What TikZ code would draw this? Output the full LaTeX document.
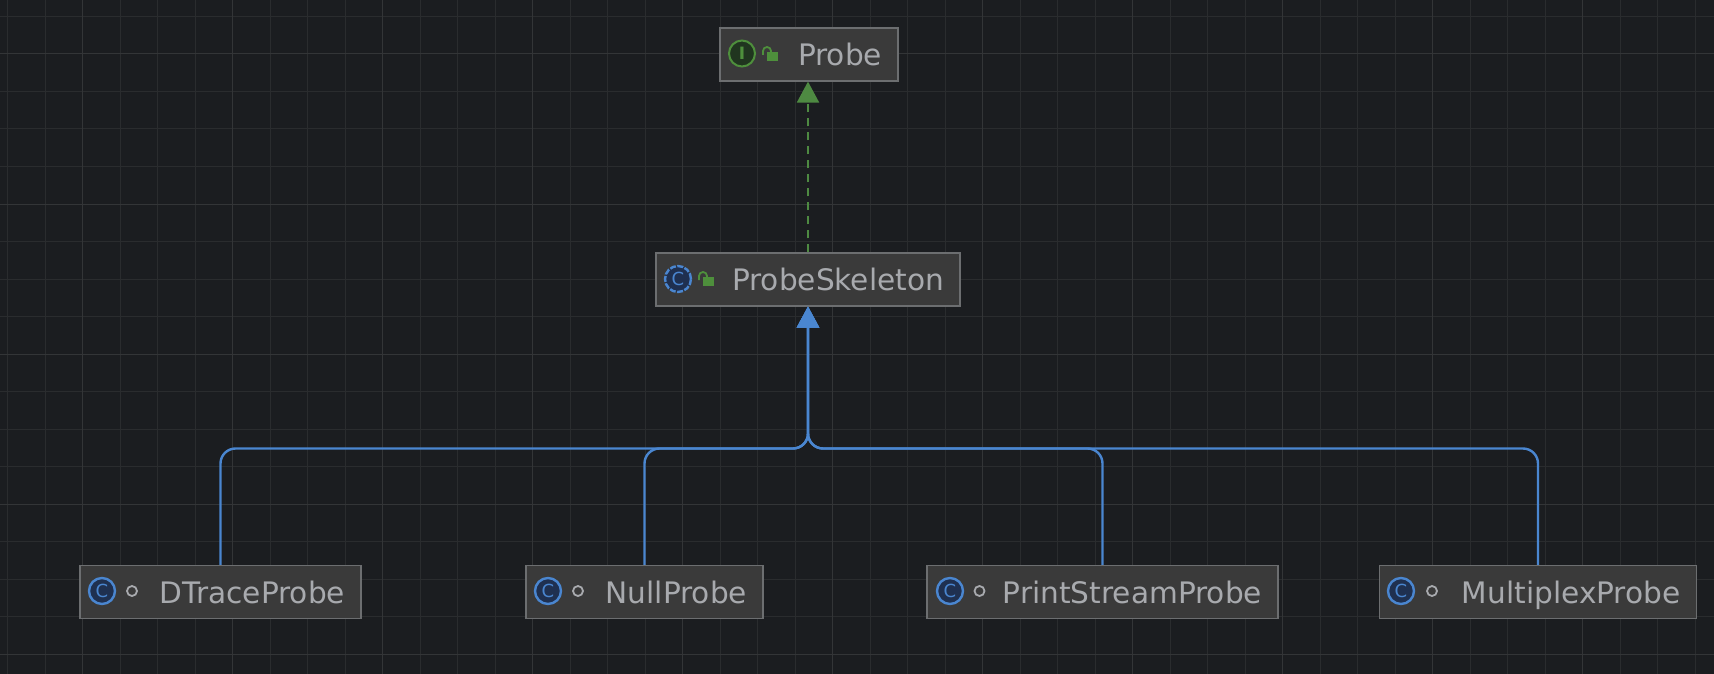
\documentclass[tikz,border=0pt]{standalone}
\usepackage{fontspec}
\setmainfont{DejaVu Sans}
\usetikzlibrary{arrows.meta}
\definecolor{bgc}{HTML}{1B1D20}
\definecolor{gridminor}{HTML}{2A2C2E}
\definecolor{gridmajor}{HTML}{333537}
\definecolor{boxfill}{HTML}{3A3A3A}
\definecolor{boxline}{HTML}{6C6E70}
\definecolor{txt}{HTML}{A8AAAE}
\definecolor{blueedge}{HTML}{4A86D0}
\definecolor{greenedge}{HTML}{4E8A42}
\definecolor{lockc}{HTML}{4E8F3C}
\definecolor{ifill}{HTML}{20351F}
\definecolor{cfill}{HTML}{1F3050}
\tikzset{
  classbox/.style={draw=boxline,fill=boxfill,line width=1.2pt,text=txt,
    font=\fontsize{29.6}{32}\selectfont,inner xsep=16pt,inner ysep=15.5pt,
    text height=22pt,text depth=0pt,align=right},
  inherit/.style={draw=blueedge,line width=2.4pt,rounded corners=15pt,
    -{Triangle[length=21pt,width=22pt]}},
  realize/.style={draw=greenedge,line width=2pt,dash pattern=on 8pt off 6pt,
    -{Triangle[length=21pt,width=22pt]}},
  iconI/.style={circle,draw=lockc,fill=ifill,line width=2pt,minimum size=26pt,inner sep=0pt,
    text=lockc,font=\fontsize{17}{17}\selectfont\bfseries},
  iconC/.style={circle,draw=blueedge,fill=cfill,line width=2.4pt,minimum size=26pt,inner sep=0pt,
    text=blueedge,font=\fontsize{18}{18}\selectfont},
  iconCabs/.style={iconC,dash pattern=on 6pt off 1.5pt},
  dotmark/.style={circle,draw=txt,line width=1.8pt,minimum size=10pt,inner sep=0pt},
}
\newcommand{\lockicon}[2]{%
  \fill[lockc] (#1-5,#2-2) rectangle (#1+6,#2+7);
  \draw[lockc,line width=1.8pt] (#1-1,#2-2) -- (#1-1,#2-3) arc[start angle=0,end angle=-180,radius=4] -- ++(0,4);
}
\begin{document}
\begin{tikzpicture}[x=1pt,y=-1pt]
\useasboundingbox (0,0) rectangle (1714,674);
\fill[bgc] (0,0) rectangle (1714,674);
% grid
\foreach \i in {0,...,45}{
  \pgfmathsetmacro{\gx}{7.5+37.5*\i}
  \draw[gridminor,line width=1pt] (\gx,0) -- (\gx,674);
}
\foreach \i in {0,...,17}{
  \pgfmathsetmacro{\gy}{16.5+37.5*\i}
  \draw[gridminor,line width=1pt] (0,\gy) -- (1714,\gy);
}
\foreach \i in {0,...,11}{
  \pgfmathsetmacro{\gx}{82.5+150*\i}
  \draw[gridmajor,line width=1pt] (\gx,0) -- (\gx,674);
}
\foreach \i in {0,...,4}{
  \pgfmathsetmacro{\gy}{54+150*\i}
  \draw[gridmajor,line width=1pt] (0,\gy) -- (1714,\gy);
}
% boxes
\node[classbox,text width=146pt] (probe) at (809,54.5) {Probe};
\node[classbox,text width=272pt] (skel) at (808,279.5) {ProbeSkeleton};
\node[classbox,text width=249pt] (dtrace) at (220.5,592) {DTraceProbe};
\node[classbox,text width=205pt] (null) at (644.5,592) {NullProbe};
\node[classbox,text width=319pt] (print) at (1102.5,592) {PrintStreamProbe};
\node[classbox,text width=285pt] (multi) at (1538,592) {MultiplexProbe};
% connectors
\coordinate (bus) at (808,448.5);
\draw[inherit] (dtrace.north) |- (bus) -- (skel.south);
\draw[inherit] (null.north) |- (bus) -- (skel.south);
\draw[inherit] (print.north) |- (bus) -- (skel.south);
\draw[inherit] (multi.north) |- (bus) -- (skel.south);
\draw[realize] (skel.north) -- (skel.north |- probe.south);
% icons
\node[iconI] (iprobe) at (742,53.5) {I};
\lockicon{772}{54}
\node[iconCabs] (iskel) at (678,279) {C};
\lockicon{708}{279}
\node[iconC] (idtrace) at (102,591) {C};
\node[dotmark] (ddtrace) at (132,591) {};
\node[iconC] (inull) at (548,591) {C};
\node[dotmark] (dnull) at (578,591) {};
\node[iconC] (iprint) at (950,591) {C};
\node[dotmark] (dprint) at (979.5,591) {};
\node[iconC] (imulti) at (1401,591) {C};
\node[dotmark] (dmulti) at (1432,591) {};
\end{tikzpicture}
\end{document}
